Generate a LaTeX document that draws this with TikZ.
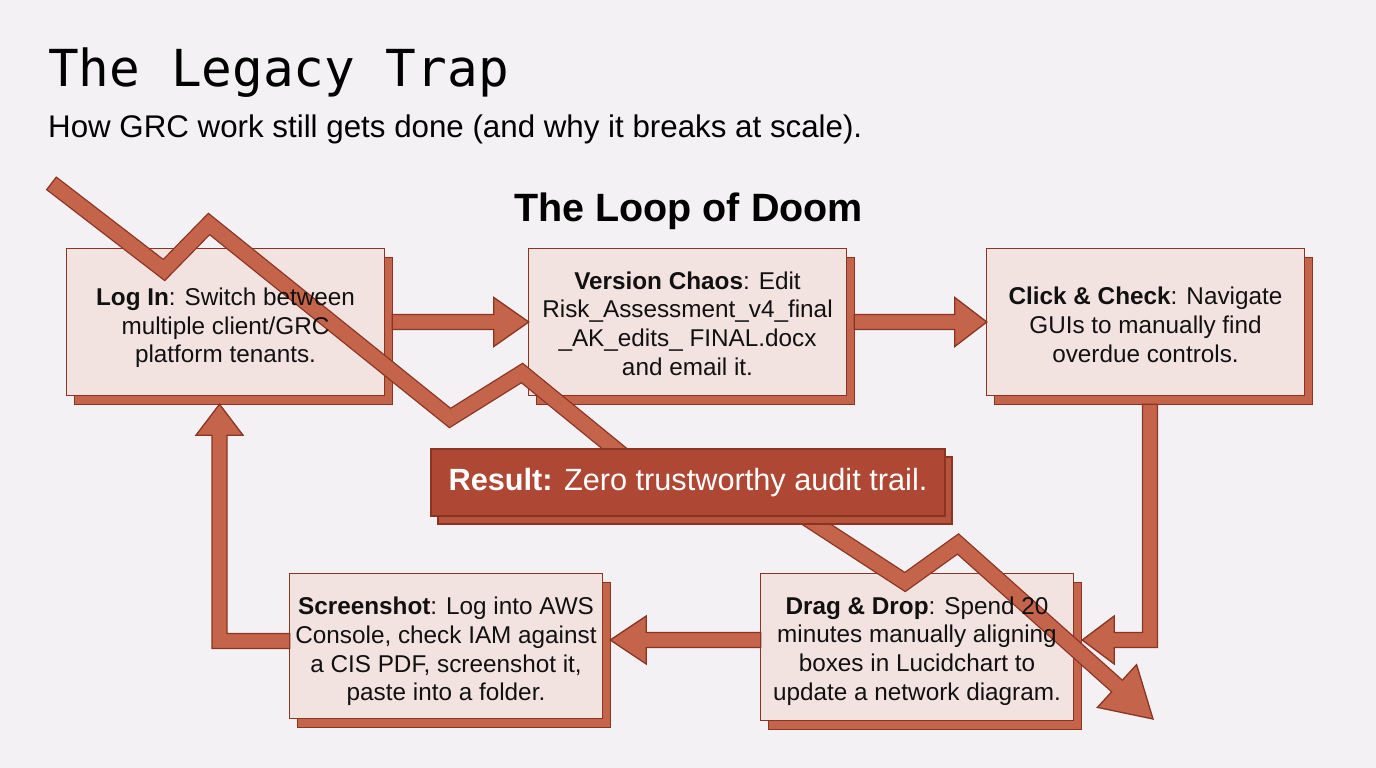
\documentclass[tikz,border=0pt]{standalone}
\usepackage{fontspec}
\setmainfont{Liberation Sans}
\newfontfamily\titlemono{DejaVu Sans Mono}
\usetikzlibrary{calc,shadows}
\definecolor{bgc}{HTML}{F3F1F3}
\definecolor{boxfill}{HTML}{F3E3E0}
\definecolor{dark}{HTML}{8C3424}
\definecolor{terra}{HTML}{C4644B}
\definecolor{resfill}{HTML}{AE4733}
\definecolor{resshadow}{HTML}{B5533D}
\definecolor{ink}{HTML}{111111}
\pgfdeclarelayer{bg}
\pgfdeclarelayer{mid}
\pgfsetlayers{bg,mid,main}
\tikzset{
  stepbox/.style={inner sep=0pt, minimum width=317pt, minimum height=146pt},
  steptext/.style={inner sep=0pt, align=center, text=ink, font=\fontsize{24.3}{28.7}\selectfont},
  boxback/.style={fill=boxfill, draw=dark, line width=1.3pt},
  boxshade/.style={fill=terra, draw=dark, line width=1.3pt},
  flow/.style={fill=terra, draw=dark, line width=1.3pt, line join=miter},
  resbox/.style={fill=resfill, draw=dark, line width=1.3pt, text=white, minimum width=514pt,
    minimum height=67pt, inner sep=0pt, font=\fontsize{30.7}{36}\selectfont,
    copy shadow={shadow xshift=7pt, shadow yshift=-8pt, fill=resshadow, draw=dark, line width=1.3pt}},
}
\newcommand\backbox[1]{%
  \path[boxshade] ($(#1.south west)+(8,9)$) rectangle ($(#1.north east)+(8,9)$);
  \path[boxback] (#1.south west) rectangle (#1.north east);}
\begin{document}
\begin{tikzpicture}[x=1pt,y=-1pt]
\begin{pgfonlayer}{bg}
\fill[bgc] (0,0) rectangle (1376,768);
\end{pgfonlayer}
\useasboundingbox (0,0) rectangle (1376,768);

% titles
\node[anchor=base west, inner sep=0pt, font=\titlemono\fontsize{51}{60}\selectfont] (title) at (48,87) {The Legacy Trap};
\node[anchor=base west, inner sep=0pt, font=\fontsize{31.3}{36}\selectfont] (subtitle) at (48,137) {How GRC work still gets done (and why it breaks at scale).};
\node[anchor=base, inner sep=0pt, font=\bfseries\fontsize{39.5}{46}\selectfont] (loop) at (688.5,221) {The Loop of Doom};

% step boxes
\node[stepbox] (login) at (225.5,322) {};
\node[stepbox] (version) at (687.5,322) {};
\node[stepbox] (click) at (1145.5,322) {};
\node[stepbox, minimum width=312pt, minimum height=145pt] (shot) at (446,646) {};
\node[stepbox, minimum width=312pt, minimum height=146pt] (drag) at (917,647) {};

% step texts
\node[steptext] (login-t) at ($(login)+(0,6)$) {\textbf{Log In}: Switch between\\multiple client/GRC\\platform tenants.};
\node[steptext] (version-t) at ($(version)+(0,1.5)$) {\textbf{Version Chaos}: Edit\\Risk\_Assessment\_v4\_final\\\_AK\_edits\_ FINAL.docx\\and email it.};
\node[steptext] (click-t) at ($(click)+(0,3)$) {\textbf{Click \& Check}: Navigate\\GUIs to manually find\\overdue controls.};
\node[steptext] (shot-t) at ($(shot)+(0,5.5)$) {\textbf{Screenshot}: Log into AWS\\Console, check IAM against\\a CIS PDF, screenshot it,\\paste into a folder.};
\node[steptext] (drag-t) at ($(drag)+(0,4)$) {\textbf{Drag \& Drop}: Spend 20\\minutes manually aligning\\boxes in Lucidchart to\\update a network diagram.};

\begin{pgfonlayer}{bg}
\backbox{login}
\backbox{version}
\backbox{click}
\backbox{shot}
\backbox{drag}
% flow arrows
\path[flow] let \p1=($(login.east)+(8,0)$), \p2=(version.west) in
  (\x1,\y1+7.5pt) -- (\x2-35pt,\y1+7.5pt) -- (\x2-35pt,\y1+24.5pt) -- (\x2,\y1)
  -- (\x2-35pt,\y1-24.5pt) -- (\x2-35pt,\y1-7.5pt) -- (\x1,\y1-7.5pt) -- cycle;
\path[flow] let \p1=($(version.east)+(8,0)$), \p2=(click.west) in
  (\x1,\y1+7.5pt) -- (\x2-32pt,\y1+7.5pt) -- (\x2-32pt,\y1+24.5pt) -- (\x2,\y1)
  -- (\x2-32pt,\y1-24.5pt) -- (\x2-32pt,\y1-7.5pt) -- (\x1,\y1-7.5pt) -- cycle;
\path[flow] let \p1=($(click.south)+(4.5,9)$), \p2=($(drag.east)+(9,-7)$) in
  (\x1-7.5pt,\y1) -- (\x1-7.5pt,\y2+7.5pt) -- (\x2+32pt,\y2+7.5pt) -- (\x2+32pt,\y2+24pt)
  -- (\x2,\y2) -- (\x2+32pt,\y2-24pt) -- (\x2+32pt,\y2-7.5pt) -- (\x1+7.5pt,\y2-7.5pt)
  -- (\x1+7.5pt,\y1) -- cycle;
\path[flow] let \p1=($(drag.west)+(0,-7)$), \p2=($(shot.east)+(8,0)$) in
  (\x1,\y1+7.5pt) -- (\x2+36pt,\y1+7.5pt) -- (\x2+36pt,\y1+24pt) -- (\x2,\y1)
  -- (\x2+36pt,\y1-24pt) -- (\x2+36pt,\y1-7.5pt) -- (\x1,\y1-7.5pt) -- cycle;
\path[flow] let \p1=($(shot.west)+(0,-5)$), \p2=($(login.south)+(-6,9)$) in
  (\x1,\y1+7.5pt) -- (\x2+7.5pt,\y1+7.5pt) -- (\x2+7.5pt,\y2-31pt) -- (\x2+23.5pt,\y2-31pt)
  -- (\x2,\y2) -- (\x2-23.5pt,\y2-31pt) -- (\x2-7.5pt,\y2-31pt) -- (\x2-7.5pt,\y1-7.5pt)
  -- (\x1,\y1-7.5pt) -- cycle;
\end{pgfonlayer}

% declining zigzag trend arrow
\coordinate (z0) at (51,183);
\coordinate (z1) at (164,270);
\coordinate (z2) at (209,224);
\coordinate (z3) at (450,418);
\coordinate (z4) at (522,373);
\coordinate (z5) at (675,498);
\coordinate (z6) at (730,468);
\coordinate (z7) at (905,582);
\coordinate (z8) at (958,544);
\coordinate (zb) at (1117,686);
\coordinate (zt) at (1153,719);
\begin{pgfonlayer}{mid}
\draw[dark, line width=17pt, miter limit=10] (z0) -- (z1) -- (z2) -- (z3) -- (z4) -- (z5) -- (z6) -- (z7) -- (z8) -- (zb);
\path[flow] ($(zb)!29pt!90:(zt)$) -- (zt) -- ($(zb)!29pt!-90:(zt)$) -- cycle;
\draw[terra, line width=14.4pt, miter limit=10, shorten <=1.4pt, shorten >=-6pt] (z0) -- (z1) -- (z2) -- (z3) -- (z4) -- (z5) -- (z6) -- (z7) -- (z8) -- (zb);
\end{pgfonlayer}

% result box
\node[resbox] (result) at (688,482.5) {\textbf{Result:} Zero trustworthy audit trail.};
\end{tikzpicture}
\end{document}
